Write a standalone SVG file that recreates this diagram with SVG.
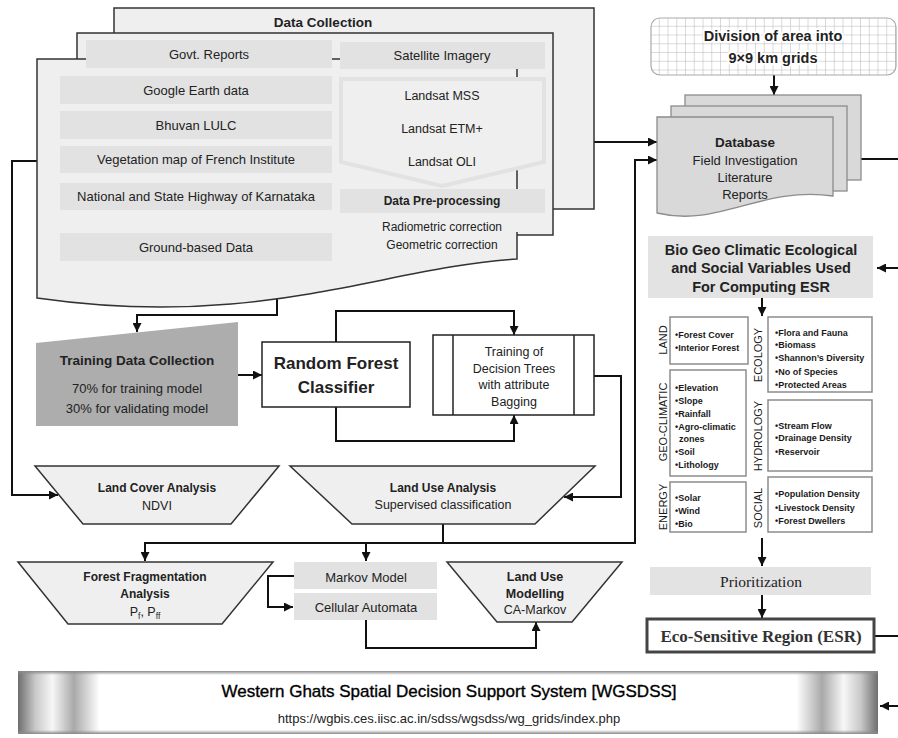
<svg xmlns="http://www.w3.org/2000/svg" width="898" height="738" viewBox="0 0 898 738">
<defs>
<style>
text{font-family:"Liberation Sans",Arial,sans-serif;fill:#222;text-anchor:middle}
.r13{font-size:13px}
.r12{font-size:12.5px}
.b{font-weight:bold}
.page{fill:#efefef;stroke:#333;stroke-width:1.5}
.ibox{fill:#e2e2e2}
.trap{fill:#efefef;stroke:#333;stroke-width:1.5}
.conn{fill:none;stroke:#111;stroke-width:2}
.arr{marker-end:url(#ah)}
.dbp{fill:#d9d9d9;stroke:#8c8c8c;stroke-width:1.3}
.cat{fill:#fff;stroke:#8c8c8c;stroke-width:1.5}
.it{font-size:9px;font-weight:bold;text-anchor:start;fill:#1a1a1a}
.lab{font-size:11px;fill:#1a1a1a}
.halo{stroke:#fff;stroke-width:4;paint-order:stroke;stroke-linejoin:round}
</style>
<marker id="ah" viewBox="0 0 10 10" refX="10" refY="5" markerWidth="4.5" markerHeight="4.5" orient="auto-start-reverse">
<path d="M0,0 L10,5 L0,10 z" fill="#111"/>
</marker>
<pattern id="grid" width="8.75" height="8.75" patternUnits="userSpaceOnUse" x="651" y="18">
<rect width="8.75" height="8.75" fill="#fff"/>
<path d="M8.75,0 V8.75 M0,8.75 H8.75" stroke="#b5b5b5" stroke-width="1" fill="none"/>
</pattern>
<linearGradient id="metal" x1="0" y1="0" x2="1" y2="0">
<stop offset="0" stop-color="#6e6e6e"/>
<stop offset="0.02" stop-color="#c8c8c8"/>
<stop offset="0.04" stop-color="#f7f7f7"/>
<stop offset="0.065" stop-color="#a9a9a9"/>
<stop offset="0.095" stop-color="#ffffff"/>
<stop offset="0.905" stop-color="#ffffff"/>
<stop offset="0.935" stop-color="#a9a9a9"/>
<stop offset="0.96" stop-color="#f7f7f7"/>
<stop offset="0.98" stop-color="#c8c8c8"/>
<stop offset="1" stop-color="#6e6e6e"/>
</linearGradient>
<linearGradient id="edgeV" x1="0" y1="0" x2="0" y2="1">
<stop offset="0" stop-color="#8a8a8a"/>
<stop offset="1" stop-color="#8a8a8a" stop-opacity="0"/>
</linearGradient>
</defs>

<g id="connectors">
<path class="conn arr" d="M37,161 H12 V495 H58"/>
<path class="conn arr" d="M277,296 V315 H137 V332"/>
<path class="conn arr" d="M238,375 H262"/>
<path class="conn arr" d="M336,342 V311 H514 V335"/>
<path class="conn arr" d="M336,407 V441 H514 V415"/>
<path class="conn arr" d="M594,376 H621 V497 H564"/>
<path class="conn" d="M443,524 V543"/>
<path class="conn arr" d="M145,561 V543 H635 V160 H657" style="marker-start:url(#ah)"/>
<path class="conn arr" d="M366,543 V561"/>
<path class="conn arr" d="M294,576 H268 V607 H293"/>
<path class="conn arr" d="M366,620 V648 H536 V622"/>
<path class="conn arr" d="M594,142 H657"/>
<path class="conn arr" d="M774,75 V95"/>
<path class="conn arr" d="M861,159 H900 V268 H877"/>
<path class="conn arr" d="M762,298 V316"/>
<path class="conn arr" d="M762,538 V566"/>
<path class="conn arr" d="M762,595 V618"/>
<path class="conn arr" d="M874,636 H900 V706 H880"/>
</g>

<g id="data-collection">
<rect class="page" x="114" y="8" width="480" height="201"/>
<rect class="page" x="77" y="33" width="476" height="202"/>
<path class="page" d="M37,59 H517 V259 C380,268 260,330 37,298 Z"/>
<text class="b" x="323" y="27" font-size="13.5">Data Collection</text>
<rect class="ibox" x="86" y="40" width="246" height="28"/>
<text class="r13" x="209" y="58.5">Govt. Reports</text>
<rect class="ibox" x="340" y="42" width="205" height="27"/>
<text class="r13" x="442" y="60">Satellite Imagery</text>
<rect class="ibox" x="60" y="76" width="272" height="28"/>
<text class="r13" x="196" y="94.5">Google Earth data</text>
<rect class="ibox" x="60" y="111" width="272" height="28"/>
<text class="r13" x="196" y="129.5">Bhuvan LULC</text>
<rect class="ibox" x="60" y="146" width="272" height="27"/>
<text class="r13" x="196" y="164">Vegetation map of French Institute</text>
<rect class="ibox" x="60" y="183" width="272" height="27"/>
<text class="r13" x="196" y="201">National and State Highway of Karnataka</text>
<rect class="ibox" x="60" y="233" width="272" height="28"/>
<text class="r13" x="196" y="251.5">Ground-based Data</text>
<polygon points="341,79 544,79 544,162 442,186 341,162" fill="#efefef" stroke="#e2e2e2" stroke-width="4"/>
<text class="r12" x="442" y="99.5">Landsat MSS</text>
<text class="r12" x="442" y="132.5">Landsat ETM+</text>
<text class="r12" x="442" y="165.5">Landsat OLI</text>
<rect class="ibox" x="340" y="189" width="205" height="24"/>
<text class="b" x="442" y="205" font-size="12px">Data Pre-processing</text>
<rect x="340" y="213" width="205" height="19" fill="#efefef"/>
<text x="442" y="231" font-size="12px">Radiometric correction</text>
<text x="442" y="249" font-size="12px">Geometric correction</text>
</g>

<g id="training-data">
<polygon points="36,343 238,322 238,426 36,426" fill="#adadad"/>
<text class="b" x="137" y="365" font-size="13.5">Training Data Collection</text>
<text class="r13" x="137" y="392.5">70% for training model</text>
<text class="r13" x="137" y="412.5">30% for validating model</text>
</g>

<g id="random-forest">
<rect x="262" y="342" width="148" height="65" fill="#fff" stroke="#222" stroke-width="1.5"/>
<text class="b" x="336" y="369" font-size="17">Random Forest</text>
<text class="b" x="336" y="393" font-size="17">Classifier</text>
</g>

<g id="decision-trees">
<rect x="433" y="335" width="161" height="80" fill="#fff" stroke="#222" stroke-width="1.5"/>
<path d="M453,335 V415 M574,335 V415" stroke="#222" stroke-width="1.5"/>
<text class="r12" x="514" y="355.5">Training of</text>
<text class="r12" x="514" y="372.5">Decision Trees</text>
<text class="r12" x="514" y="389">with attribute</text>
<text class="r12" x="514" y="405.5">Bagging</text>
</g>

<g id="land-cover">
<polygon class="trap" points="35,466 279,466 231,524 83,524"/>
<text class="b" x="157" y="492" font-size="12">Land Cover Analysis</text>
<text class="r12" x="157" y="510">NDVI</text>
</g>

<g id="land-use">
<polygon class="trap" points="290,466 595,466 535,524 352,524"/>
<text class="b" x="443" y="492" font-size="12">Land Use Analysis</text>
<text class="r12" x="443" y="509">Supervised classification</text>
</g>

<g id="forest-fragmentation">
<polygon class="trap" points="18,562 273,562 222,624 68,624"/>
<text class="b" x="145" y="581" font-size="12">Forest Fragmentation</text>
<text class="b" x="145" y="598" font-size="12">Analysis</text>
<text class="r12" x="145" y="616">P<tspan font-size="8.5" dy="3">f</tspan><tspan dy="-3">, P</tspan><tspan font-size="8.5" dy="3">ff</tspan></text>
</g>

<g id="markov">
<rect class="ibox" x="294" y="562" width="143" height="27"/>
<text class="r13" x="366" y="581.5">Markov Model</text>
</g>
<g id="cellular-automata">
<rect class="ibox" x="294" y="593" width="143" height="27"/>
<text class="r13" x="366" y="611.5">Cellular Automata</text>
</g>

<g id="land-use-modelling">
<polygon class="trap" points="447,562 622,562 572,622 497,622"/>
<text class="b" x="535" y="580.5" font-size="12.5">Land Use</text>
<text class="b" x="535" y="597.5" font-size="12.5">Modelling</text>
<text class="r12" x="535" y="613.5">CA-Markov</text>
</g>

<g id="grid-division">
<rect x="651" y="18" width="245" height="57" rx="9" fill="url(#grid)" stroke="#aaa" stroke-width="1.2"/>
<text class="b halo" x="773" y="41" font-size="14.5">Division of area into</text>
<text class="b halo" x="773" y="63" font-size="14.5">9×9 km grids</text>
</g>

<g id="database">
<rect class="dbp" x="685" y="95" width="176" height="85"/>
<rect class="dbp" x="671" y="106" width="176" height="85"/>
<path class="dbp" d="M657,117 H833 V196 C760,186 720,228 657,213 Z"/>
<text class="b" x="745" y="147" font-size="13.5">Database</text>
<text class="r13" x="745" y="164.5">Field Investigation</text>
<text class="r13" x="745" y="181.5">Literature</text>
<text class="r13" x="745" y="198.5">Reports</text>
</g>

<g id="variables">
<rect x="648" y="236" width="225" height="62" fill="#e3e3e3"/>
<text class="b" x="761" y="255" font-size="14.5">Bio Geo Climatic Ecological</text>
<text class="b" x="761" y="273" font-size="14.5">and Social Variables Used</text>
<text class="b" x="761" y="292" font-size="14.5">For Computing ESR</text>
</g>

<g id="cat-land">
<rect class="cat" x="670" y="317" width="78" height="47"/>
<text class="lab" transform="translate(667,340) rotate(-90)">LAND</text>
<text class="it" x="675" y="337.5">•Forest Cover</text>
<text class="it" x="675" y="350.5">•Interior Forest</text>
</g>
<g id="cat-ecology">
<rect class="cat" x="768" y="317" width="104" height="75"/>
<text class="lab" transform="translate(762,355) rotate(-90)">ECOLOGY</text>
<text class="it" x="775" y="335.5">•Flora and Fauna</text>
<text class="it" x="775" y="347.5">•Biomass</text>
<text class="it" x="775" y="360.5">•Shannon’s Diversity</text>
<text class="it" x="775" y="374.5">•No of Species</text>
<text class="it" x="775" y="387.5">•Protected Areas</text>
</g>
<g id="cat-geo-climatic">
<rect class="cat" x="670" y="370" width="76" height="106"/>
<text class="lab" transform="translate(667,422) rotate(-90)">GEO-CLIMATIC</text>
<text class="it" x="675" y="390.5">•Elevation</text>
<text class="it" x="675" y="403.5">•Slope</text>
<text class="it" x="675" y="416.5">•Rainfall</text>
<text class="it" x="675" y="429.5">•Agro-climatic</text>
<text class="it" x="679" y="441.5">zones</text>
<text class="it" x="675" y="454.5">•Soil</text>
<text class="it" x="675" y="467.5">•Lithology</text>
</g>
<g id="cat-hydrology">
<rect class="cat" x="768" y="400" width="104" height="71"/>
<text class="lab" transform="translate(762,436) rotate(-90)">HYDROLOGY</text>
<text class="it" x="775" y="428.5">•Stream Flow</text>
<text class="it" x="775" y="441">•Drainage Density</text>
<text class="it" x="775" y="454.5">•Reservoir</text>
</g>
<g id="cat-energy">
<rect class="cat" x="670" y="482" width="76" height="50"/>
<text class="lab" transform="translate(667,507) rotate(-90)">ENERGY</text>
<text class="it" x="675" y="500.5">•Solar</text>
<text class="it" x="675" y="513.5">•Wind</text>
<text class="it" x="675" y="526.5">•Bio</text>
</g>
<g id="cat-social">
<rect class="cat" x="768" y="477" width="104" height="55"/>
<text class="lab" transform="translate(762,508) rotate(-90)">SOCIAL</text>
<text class="it" x="775" y="496.5">•Population Density</text>
<text class="it" x="775" y="510.5">•Livestock Density</text>
<text class="it" x="775" y="523.5">•Forest Dwellers</text>
</g>

<g id="prioritization">
<rect x="650" y="567" width="221" height="28" fill="#e3e3e3"/>
<text x="761" y="586.5" font-size="15.5" style="font-family:'Liberation Serif',serif">Prioritization</text>
</g>

<g id="esr">
<rect x="647" y="619" width="227" height="33" fill="#fff" stroke="#444" stroke-width="3"/>
<text class="b" x="761" y="642" font-size="17" style="font-family:'Liberation Serif',serif;fill:#333">Eco-Sensitive Region (ESR)</text>
</g>

<g id="wgsdss">
<rect x="18" y="671" width="860" height="63" fill="url(#metal)"/>
<rect x="18" y="671" width="860" height="4" fill="url(#edgeV)"/>
<rect x="18" y="730" width="860" height="4" fill="url(#edgeV)" transform="rotate(180 448 732)"/>
<text x="449" y="697" font-size="17" style="fill:#000;stroke:#000;stroke-width:0.35">Western Ghats Spatial Decision Support System [WGSDSS]</text>
<text x="449" y="723" font-size="13" fill="#111">https://wgbis.ces.iisc.ac.in/sdss/wgsdss/wg_grids/index.php</text>
</g>
</svg>
